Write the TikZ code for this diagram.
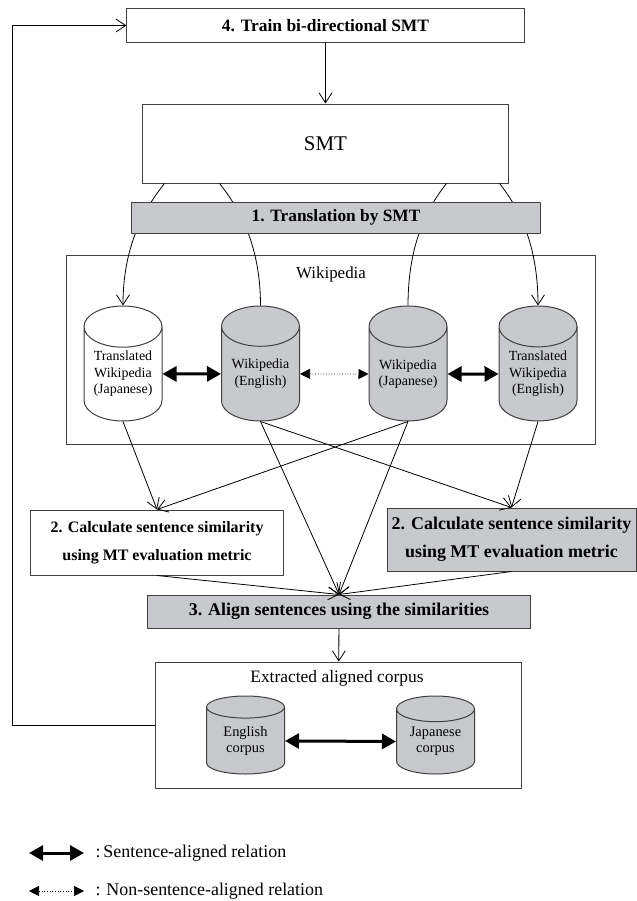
\documentclass[tikz,border=0pt]{standalone}
\usepackage{fontspec}
\setmainfont{Liberation Serif}
\usetikzlibrary{positioning,shapes.geometric,arrows.meta,calc}

\definecolor{boxline}{rgb}{0.25,0.25,0.25}
\definecolor{boxfill}{rgb}{0.78,0.79,0.80}

\begin{document}
\begin{tikzpicture}[x=1bp,y=-1bp,line join=bevel,
    >={Straight Barb[length=10bp,width=13bp]},
    box/.style={draw=boxline,line width=1bp,inner sep=0pt,align=center},
    grey/.style={fill=boxfill},
    bfont/.style={font=\fontsize{#1}{28}\selectfont\bfseries},
    db/.style={cylinder,shape border rotate=90,draw=boxline,line width=1bp,
      minimum width=78bp,minimum height=115bp,aspect=0.7,inner sep=0pt,
      anchor=shape center,align=center,font=\fontsize{14}{16.5}\selectfont},
    flow/.style={->,line width=0.8bp},
    sent/.style={{Triangle[length=14bp,width=15bp]}-{Triangle[length=14bp,width=15bp]},line width=3bp},
    nonsent/.style={{Triangle[length=10bp,width=10bp]}-{Triangle[length=10bp,width=10bp]},line width=0.7bp,dotted}]
  \useasboundingbox (0,0) rectangle (637,901);
  %%
  % Node: train
  \node[box,minimum width=397bp,minimum height=33bp,bfont=17.5] (train) at (325.5,25.5) {4. Train bi-directional SMT};
  % Node: smt
  \node[box,minimum width=365bp,minimum height=79bp,font=\fontsize{21}{24}\selectfont] (smt) at (325.5,143.5) {SMT};
  % Node: wiki
  \node[box,minimum width=528bp,minimum height=189bp] (wiki) at (331,349.5) {};
  \node[font=\fontsize{17}{20}\selectfont] (wikilabel) at (331,274) {Wikipedia};
  % Node: trja, wien, wija, tren
  \node[db] (trja) at (123,363.5) {Translated\\Wikipedia\\(Japanese)};
  \node[db,grey] (wien) at (260.5,363.5) {Wikipedia\\(English)};
  \node[db,grey] (wija) at (408,363.5) {Wikipedia\\(Japanese)};
  \node[db,grey] (tren) at (538,363.5) {Translated\\Wikipedia\\(English)};
  %
  \coordinate (sa) at ($(smt.south west)+(22,0)$);
  \coordinate (sb) at ($(smt.south west)+(77,0)$);
  \coordinate (sc) at ($(smt.south west)+(304,0)$);
  \coordinate (sd) at ($(smt.south west)+(357,0)$);
  % Edge: smt -> trja
  \draw[flow] (sa) .. controls +(-20,25) and +(0,-60) .. (trja.top);
  % Edge: wien -> smt
  \draw[line width=0.8bp] (wien.top) .. controls +(0,-60) and +(20,25) .. (sb);
  % Edge: wija -> smt
  \draw[line width=0.8bp] (wija.top) .. controls +(0,-60) and +(-20,25) .. (sc);
  % Edge: smt -> tren
  \draw[flow] (sd) .. controls +(20,25) and +(0,-60) .. (tren.top);
  % Node: trans
  \node[box,grey,minimum width=408bp,minimum height=31bp,bfont=17.4] (trans) at (336,217.5) {1. Translation by SMT};
  % Edge: train -> smt
  \draw[flow] (train) -- (smt);
  % relations
  \draw[sent] (trja) -- (wien);
  \draw[nonsent] (wien) -- (wija);
  \draw[sent] (wija) -- (tren);
  %
  % Node: calcL
  \node[box,minimum width=253bp,minimum height=65bp,bfont=16] (calcL) at (157,542.5) {2. Calculate sentence similarity\\using MT evaluation metric};
  % Node: calcR
  \node[box,grey,minimum width=249bp,minimum height=63bp,bfont=18] (calcR) at (511.5,539.5) {2. Calculate sentence similarity\\using MT evaluation metric};
  % Node: align
  \node[box,grey,minimum width=383bp,minimum height=33bp,bfont=18] (align) at (339,611.5) {3. Align sentences using the similarities};
  % Edge: trja -> calcL, wija -> calcL
  \draw[flow] (trja.bottom) -- (calcL.north);
  \draw[flow] (wija.bottom) -- (calcL.north);
  % Edge: wien -> calcR, tren -> calcR
  \draw[flow] (wien.bottom) -- (calcR.north);
  \draw[flow] (tren.bottom) -- (calcR.north);
  % Edge: -> align
  \draw[flow] (wien.bottom) -- (align.north);
  \draw[flow] (wija.bottom) -- (align.north);
  \draw[flow] (calcL.south) -- (align.north);
  \draw[flow] (calcR.south) -- (align.north);
  %
  % Node: extr
  \node[box,minimum width=365bp,minimum height=126bp] (extr) at (338.5,725) {};
  \node[font=\fontsize{17.5}{20}\selectfont] (extrlabel) at (337,678) {Extracted aligned corpus};
  \node[db,grey,minimum height=78bp,aspect=0.5,font=\fontsize{14.5}{16}\selectfont] (encorp) at (245.5,735) {English\\corpus};
  \node[db,grey,minimum height=78bp,aspect=0.5,font=\fontsize{14.5}{16}\selectfont] (jacorp) at (435.5,735) {Japanese\\corpus};
  \draw[sent] (encorp) -- (jacorp);
  % Edge: align -> extr
  \draw[flow] (align) -- (extr);
  % Edge: extr -> train
  \coordinate (fb) at (12,725);
  \draw[flow] (extr.west) -- (fb) |- (train.west);
  %
  % legend
  \coordinate (la1) at (29,853);
  \coordinate (la2) at (84,853);
  \coordinate (lb1) at (29,891);
  \coordinate (lb2) at (84,891);
  \draw[sent] (la1) -- (la2);
  \draw[nonsent] (lb1) -- (lb2);
  \node[anchor=west,font=\fontsize{18}{20}\selectfont] (lta) at (92,853) {:\,Sentence-aligned relation};
  \node[anchor=west,font=\fontsize{18}{20}\selectfont] (ltb) at (92,891) {: Non-sentence-aligned relation};
\end{tikzpicture}
\end{document}
